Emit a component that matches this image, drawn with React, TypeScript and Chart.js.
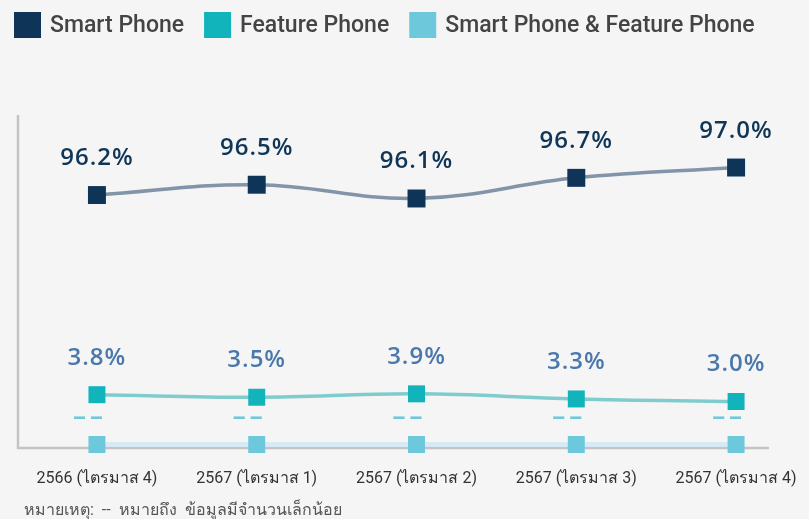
import React, { useEffect, useRef } from "react";
import { Chart, registerables } from "chart.js";

Chart.register(...registerables);

const categories = [
  "2566 (ไตรมาส 4)",
  "2567 (ไตรมาส 1)",
  "2567 (ไตรมาส 2)",
  "2567 (ไตรมาส 3)",
  "2567 (ไตรมาส 4)",
];
const seriesNames = ["Smart Phone", "Feature Phone", "Smart Phone & Feature Phone"];
const smartPhone = [96.2, 96.5, 96.1, 96.7, 97.0];
const featurePhone = [3.8, 3.5, 3.9, 3.3, 3.0];
const bothPhones = [0, 0, 0, 0, 0];
const smartLabels = ["96.2%", "96.5%", "96.1%", "96.7%", "97.0%"];
const featureLabels = ["3.8%", "3.5%", "3.9%", "3.3%", "3.0%"];
const bothLabels = ["--", "--", "--", "--", "--"];
const noteText = "หมายเหตุ:  --  หมายถึง  ข้อมูลมีจำนวนเล็กน้อย";

const pointColors = ["#0e3457", "#12b4bc", "#6cc8da"];
const lineColors = ["#8294a8", "#80cccc", "#d6e9f5"];
const labelColors = ["#0f3557", "#4a78ab", "#6cc8da"];
const labelSets = [smartLabels, featureLabels, bothLabels];

const toXY = (arr: number[]) => arr.map((y, x) => ({ x, y }));

const decorPlugin = {
  id: "decor",
  beforeDatasetsDraw(chart: any) {
    const { ctx, chartArea } = chart;
    ctx.save();
    ctx.strokeStyle = "#c4c4c4";
    ctx.lineWidth = 2.5;
    ctx.beginPath();
    ctx.moveTo(chartArea.left, chartArea.top);
    ctx.lineTo(chartArea.left, chartArea.bottom + 1);
    ctx.lineTo(chartArea.right, chartArea.bottom + 1);
    ctx.stroke();
    ctx.restore();
  },
  afterDatasetsDraw(chart: any) {
    const { ctx } = chart;
    ctx.save();
    chart.data.datasets.forEach((ds: any, di: number) => {
      const meta = chart.getDatasetMeta(di);
      meta.data.forEach((pt: any, i: number) => {
        const txt = labelSets[di][i];
        ctx.fillStyle = labelColors[di];
        if (di === 2) {
          ctx.save();
          ctx.translate(pt.x - 8, pt.y - 22);
          ctx.scale(2.0, 1);
          ctx.font = "bold 18px 'DejaVu Sans'";
          ctx.textAlign = "center";
          ctx.textBaseline = "alphabetic";
          (ctx as any).letterSpacing = "1px";
          ctx.fillText(txt, 0, 0);
          ctx.restore();
        } else {
          ctx.font = "600 24px 'Open Sans'";
          (ctx as any).letterSpacing = "1px";
          ctx.textAlign = "center";
          ctx.textBaseline = "alphabetic";
          ctx.fillText(txt, pt.x, pt.y - 30);
        }
      });
    });
    ctx.restore();
  },
  afterDraw(chart: any) {
    const { ctx } = chart;
    ctx.save();
    // legend
    let x = 14;
    ctx.font = "500 23px Roboto";
    ctx.textBaseline = "middle";
    ctx.textAlign = "left";
    seriesNames.forEach((name, i) => {
      ctx.fillStyle = pointColors[i];
      ctx.fillRect(x, 12, 27, 26);
      x += 27 + 9;
      ctx.fillStyle = "#444444";
      ctx.fillText(name, x, 26);
      x += ctx.measureText(name).width + 20;
    });
    // note
    ctx.font = "16px Roboto, 'Noto Sans', sans-serif";
    ctx.fillStyle = "#555555";
    ctx.textBaseline = "middle";
    ctx.fillText(noteText, 24, 511);
    ctx.restore();
  },
};

export default function App() {
  const ref = useRef<HTMLCanvasElement | null>(null);
  useEffect(() => {
    if (!ref.current) return;
    const chart = new Chart(ref.current, {
      type: "line",
      data: {
        datasets: [
          {
            label: seriesNames[0],
            data: toXY(smartPhone),
            yAxisID: "y1",
            borderColor: lineColors[0],
            borderWidth: 3.5,
            tension: 0.4,
            pointStyle: "rect",
            pointRadius: 12.7,
            pointBackgroundColor: pointColors[0],
            pointBorderWidth: 0,
            clip: false,
          },
          {
            label: seriesNames[1],
            data: toXY(featurePhone),
            yAxisID: "y2",
            borderColor: lineColors[1],
            borderWidth: 3.5,
            tension: 0.4,
            pointStyle: "rect",
            pointRadius: 12,
            pointBackgroundColor: pointColors[1],
            pointBorderWidth: 0,
            clip: false,
          },
          {
            label: seriesNames[2],
            data: toXY(bothPhones),
            yAxisID: "y3",
            borderColor: lineColors[2],
            borderWidth: 5,
            tension: 0.4,
            pointStyle: "rect",
            pointRadius: 12,
            pointBackgroundColor: pointColors[2],
            pointBorderWidth: 0,
            clip: false,
          },
        ],
      } as any,
      options: {
        animation: false,
        responsive: true,
        maintainAspectRatio: false,
        layout: { padding: { top: 115, left: 18, right: 40, bottom: 8.8 } },
        plugins: {
          legend: { display: false },
          tooltip: { enabled: false },
        },
        scales: {
          x: {
            type: "linear",
            min: -0.494,
            max: 4.206,
            afterBuildTicks: (s: any) => {
              s.ticks = categories.map((_, i) => ({ value: i }));
            },
            afterFit: (s: any) => {
              s.paddingLeft = 0;
              s.paddingRight = 0;
            },
            ticks: {
              autoSkip: false,
              maxRotation: 0,
              padding: 22,
              color: "#333333",
              font: { family: "Roboto, 'Noto Sans', sans-serif", size: 16 },
              callback: (v: any) => categories[v as number],
            },
            grid: { display: false, drawTicks: false },
            border: { display: false },
          },
          y1: { type: "linear", display: false, min: 88.876, max: 98.527 },
          y2: { type: "linear", display: false, min: -2.353, max: 36.7 },
          y3: { type: "linear", display: false, min: -0.075, max: 9.925 },
        },
      } as any,
      plugins: [decorPlugin],
    });
    return () => chart.destroy();
  }, []);
  return (
    <div style={{ position: "fixed", left: 0, top: 0, width: 809, height: 519, background: "#f5f5f5" }}>
      <canvas ref={ref} />
    </div>
  );
}
